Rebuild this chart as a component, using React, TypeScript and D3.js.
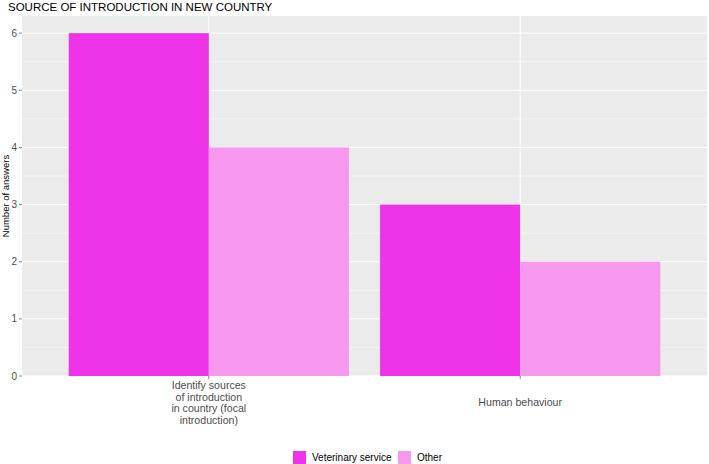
import React from "react";
import * as d3 from "d3";

const categories = ["Identify sources of introduction in country (focal introduction)", "Human behaviour"];
const categoryLines = [["Identify sources", "of introduction", "in country (focal", "introduction)"], ["Human behaviour"]];
const seriesNames = ["Veterinary service", "Other"];
const veterinary = [6, 3];
const other = [4, 2];
const yTicks = [0, 1, 2, 3, 4, 5, 6];
const colors = ["#EE33E8", "#F598EE"];

export default function App() {
  const W = 709, H = 464;
  const left = 22, right = 707, top = 16, bottom = 376;
  const y = d3.scaleLinear().domain([0, 6.3]).range([bottom, top]);
  const x = d3.scaleLinear().domain([0.4, 2.6]).range([left, right]);
  const series = [veterinary, other];
  const minor = d3.range(0.5, 6.3, 1);
  const font = "Liberation Sans, Arial, sans-serif";
  const lineH = 11.5;
  const maxLines = d3.max(categoryLines, (l) => l.length) as number;
  const blockCenter = bottom + 13 + ((maxLines - 1) * lineH) / 2;
  return (
    <svg width={W} height={H} style={{ position: "absolute", left: 0, top: 0 }} fontFamily={font}>
      <rect x={0} y={0} width={W} height={H} fill="#fff" />
      <text x={8} y={11} fontSize={11.5} fill="#000">SOURCE OF INTRODUCTION IN NEW COUNTRY</text>
      <rect x={left} y={top} width={right - left} height={bottom - top} fill="#EBEBEB" />
      {minor.map((v) => (
        <line key={"m" + v} x1={left} x2={right} y1={y(v)} y2={y(v)} stroke="#fff" strokeWidth={0.5} />
      ))}
      {yTicks.map((v) => (
        <line key={"g" + v} x1={left} x2={right} y1={y(v)} y2={y(v)} stroke="#fff" strokeWidth={1} />
      ))}
      {categories.map((c, i) => (
        <line key={"v" + i} x1={x(i + 1)} x2={x(i + 1)} y1={top} y2={bottom} stroke="#fff" strokeWidth={1} />
      ))}
      {categories.map((c, i) =>
        series.map((s, j) => {
          const x0 = x(i + 1 - 0.45 + j * 0.45);
          const x1 = x(i + 1 - 0.45 + (j + 1) * 0.45);
          return <rect key={c + j} x={x0} y={y(s[i])} width={x1 - x0} height={bottom - y(s[i])} fill={colors[j]} />;
        })
      )}
      {yTicks.map((v) => (
        <g key={"t" + v}>
          <line x1={left - 3} x2={left} y1={y(v)} y2={y(v)} stroke="#333" strokeWidth={0.6} />
          <text x={left - 5} y={y(v) + 3.5} fontSize={10} fill="#4D4D4D" textAnchor="end">{v}</text>
        </g>
      ))}
      {categories.map((c, i) => {
        const lines = categoryLines[i];
        const start = blockCenter - ((lines.length - 1) * lineH) / 2;
        return (
          <g key={"xt" + i}>
            <line x1={x(i + 1)} x2={x(i + 1)} y1={bottom} y2={bottom + 3} stroke="#333" strokeWidth={0.6} />
            {lines.map((l, k) => (
              <text key={k} x={x(i + 1)} y={start + k * lineH} fontSize={10.6} fill="#4D4D4D" textAnchor="middle">{l}</text>
            ))}
          </g>
        );
      })}
      <text transform={`translate(9,${(top + bottom) / 2}) rotate(-90)`} fontSize={9.5} fill="#000" textAnchor="middle">Number of answers</text>
      <g>
        <rect x={293} y={451} width={13} height={13} fill={colors[0]} />
        <text x={312} y={461} fontSize={10} fill="#000">{seriesNames[0]}</text>
        <rect x={398} y={451} width={13} height={13} fill={colors[1]} />
        <text x={417} y={461} fontSize={10} fill="#000">{seriesNames[1]}</text>
      </g>
    </svg>
  );
}
